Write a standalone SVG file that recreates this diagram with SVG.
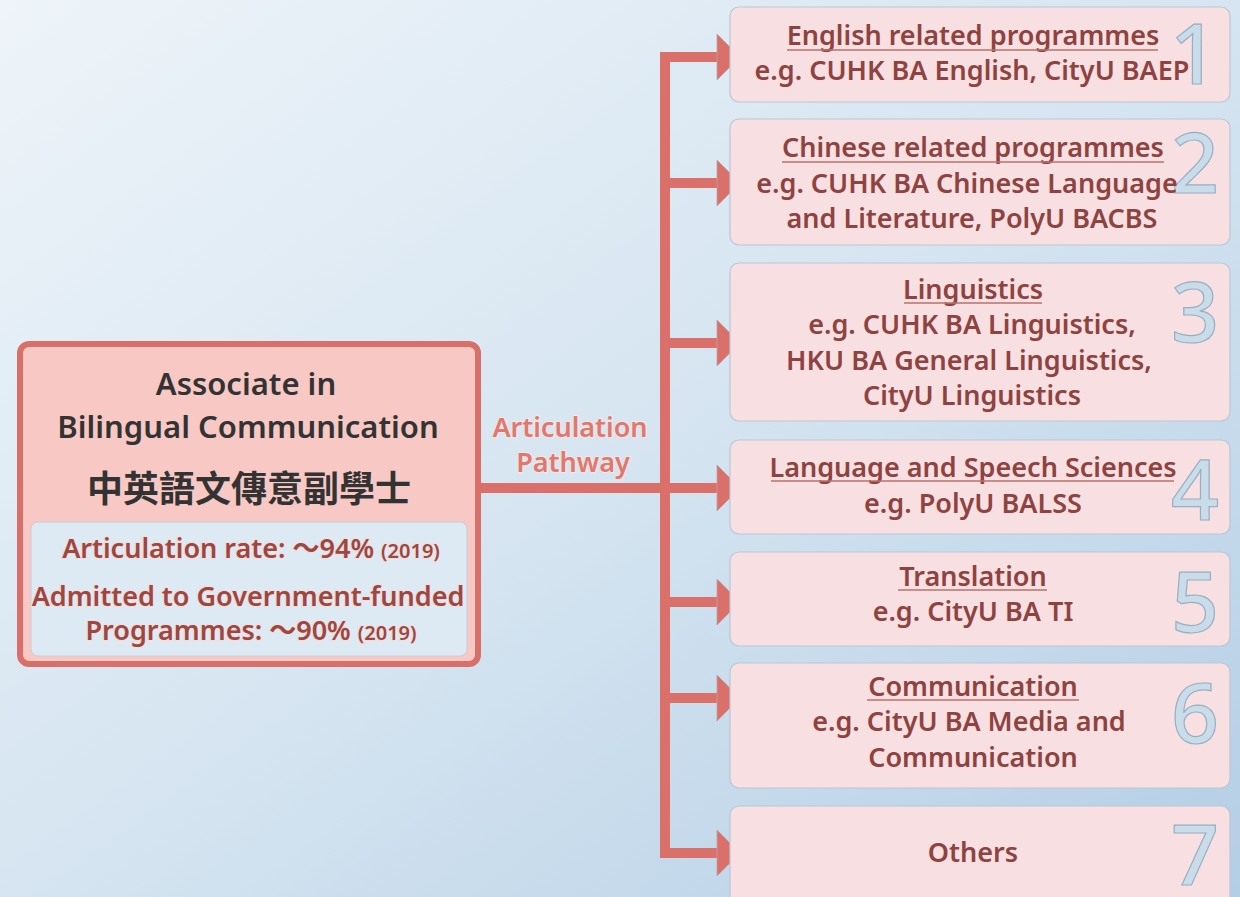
<svg xmlns="http://www.w3.org/2000/svg" width="1240" height="897" viewBox="0 0 1240 897">
  <defs>
    <linearGradient id="bg" x1="0" y1="0" x2="1" y2="1">
      <stop offset="0" stop-color="#eef4f9"/>
      <stop offset="0.5" stop-color="#d6e5f1"/>
      <stop offset="1" stop-color="#b4cee5"/>
    </linearGradient>
  </defs>
  <style>
    text { font-family: "Noto Sans", "Noto Sans CJK TC", sans-serif; text-anchor: middle; }
    .t { font-size: 27px; font-weight: 600; fill: #8e4340; }
    .u { stroke: #b8716c; stroke-width: 1.5; }
    .box { fill: #f8dfe2; stroke: #b9c7d4; stroke-width: 1.2; }
    .num { font-size: 84px; font-weight: 500; fill: #c9dcea; stroke: #98afc2; stroke-width: 1.2; }
    .conn { stroke: #db6f69; stroke-width: 10; fill: none; }
    .head { fill: #db6f69; stroke: #b9a5a8; stroke-width: 0.8; }
    .stat { font-size: 27px; font-weight: 600; fill: #9c4742; stroke: #f3dedb; stroke-width: 2; paint-order: stroke; }
    .yr { font-size: 20px; }
    .path { font-size: 27px; font-weight: 600; fill: #e07870; stroke: #f4e6e4; stroke-width: 2; paint-order: stroke; }
    .ttl { font-size: 31px; font-weight: 600; fill: #333; }
  </style>
  <rect x="0" y="0" width="1240" height="897" fill="url(#bg)"/>

  <g id="connectors">
    <line class="conn" x1="481" y1="488" x2="720" y2="488"/>
    <path class="conn" d="M720,57 H665 V853 H720"/>
    <line class="conn" x1="665" y1="183" x2="720" y2="183"/>
    <line class="conn" x1="665" y1="343" x2="720" y2="343"/>
    <line class="conn" x1="665" y1="602" x2="720" y2="602"/>
    <line class="conn" x1="665" y1="698" x2="720" y2="698"/>
    <polygon class="head" points="717,34 740,57 717,80"/>
    <polygon class="head" points="717,160 740,183 717,206"/>
    <polygon class="head" points="717,320 740,343 717,366"/>
    <polygon class="head" points="717,465 740,488 717,511"/>
    <polygon class="head" points="717,579 740,602 717,625"/>
    <polygon class="head" points="717,675 740,698 717,721"/>
    <polygon class="head" points="717,830 740,853 717,876"/>
    <text class="path" x="570" y="437">Articulation</text>
    <text class="path" x="573" y="472">Pathway</text>
  </g>

  <g id="main">
    <rect x="20" y="344" width="458" height="320" rx="9" fill="#f8c8c4" stroke="#d96f69" stroke-width="6"/>
    <text class="ttl" x="246" y="395">Associate in</text>
    <text class="ttl" x="248" y="438">Bilingual Communication</text>
    <text x="249" y="502" style="font-size:36px;font-weight:700;fill:#333;font-family:'Noto Sans CJK TC','Noto Sans CJK SC',sans-serif">中英語文傳意副學士</text>
    <rect x="31" y="522" width="436" height="134" rx="7" fill="#dde9f3" stroke="#c6ced8" stroke-width="1"/>
    <text x="251" y="558" class="stat">Articulation rate: ～94% <tspan class="yr">(2019)</tspan></text>
    <text x="248" y="606" class="stat">Admitted to Government-funded</text>
    <text x="251" y="640" class="stat">Programmes: ～90% <tspan class="yr">(2019)</tspan></text>
  </g>

  <g id="n1">
    <rect class="box" x="730" y="7" width="500" height="95" rx="9"/>
    <text class="num" x="1194" y="84">1</text>
    <text class="t" x="973" y="45">English related programmes</text>
    <line class="u" x1="787" y1="50" x2="1158" y2="50"/>
    <text class="t" x="972" y="80">e.g. CUHK BA English, CityU BAEP</text>
  </g>

  <g id="n2">
    <rect class="box" x="730" y="119" width="500" height="126" rx="9"/>
    <text class="num" x="1195" y="193">2</text>
    <text class="t" x="973" y="157">Chinese related programmes</text>
    <line class="u" x1="782" y1="162" x2="1164" y2="162"/>
    <text class="t" x="967" y="193">e.g. CUHK BA Chinese Language</text>
    <text class="t" x="972" y="228">and Literature, PolyU BACBS</text>
  </g>

  <g id="n3">
    <rect class="box" x="730" y="263" width="500" height="158" rx="9"/>
    <text class="num" x="1195" y="342">3</text>
    <text class="t" x="973" y="299">Linguistics</text>
    <line class="u" x1="904" y1="303" x2="1042" y2="303"/>
    <text class="t" x="972" y="334">e.g. CUHK BA Linguistics,</text>
    <text class="t" x="969" y="370">HKU BA General Linguistics,</text>
    <text class="t" x="972" y="405">CityU Linguistics</text>
  </g>

  <g id="n4">
    <rect class="box" x="730" y="440" width="500" height="94" rx="9"/>
    <text class="num" x="1195" y="520">4</text>
    <text class="t" x="973" y="477">Language and Speech Sciences</text>
    <line class="u" x1="771" y1="481" x2="1174" y2="481"/>
    <text class="t" x="973" y="513">e.g. PolyU BALSS</text>
  </g>

  <g id="n5">
    <rect class="box" x="730" y="552" width="500" height="94" rx="9"/>
    <text class="num" x="1195" y="632">5</text>
    <text class="t" x="973" y="586">Translation</text>
    <line class="u" x1="898" y1="590" x2="1047" y2="590"/>
    <text class="t" x="973" y="621">e.g. CityU BA TI</text>
  </g>

  <g id="n6">
    <rect class="box" x="730" y="663" width="500" height="125" rx="9"/>
    <text class="num" x="1195" y="743">6</text>
    <text class="t" x="973" y="696">Communication</text>
    <line class="u" x1="867" y1="700" x2="1079" y2="700"/>
    <text class="t" x="969" y="731">e.g. CityU BA Media and</text>
    <text class="t" x="973" y="767">Communication</text>
  </g>

  <g id="n7">
    <rect class="box" x="730" y="806" width="500" height="100" rx="9"/>
    <text class="num" x="1195" y="885">7</text>
    <text class="t" x="973" y="862">Others</text>
  </g>
</svg>
